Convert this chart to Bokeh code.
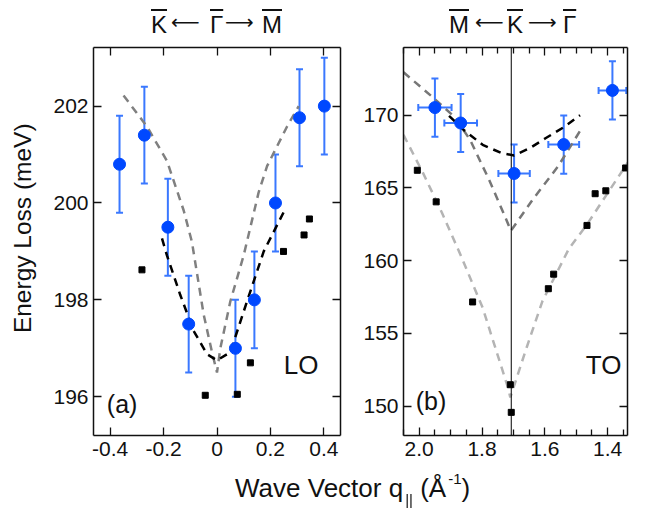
from bokeh.plotting import figure
from bokeh.models import (Range1d, LinearAxis, FixedTicker, Whisker, TeeHead,
                          ColumnDataSource, Span, Label, Div)
from bokeh.layouts import row, column
from bokeh.embed import file_html
from bokeh.resources import INLINE

FONT = "Liberation Sans"

# ---------------- Panel (a): LO branch around Gamma ----------------
a_q = [-0.365, -0.272, -0.184, -0.106, 0.069, 0.140, 0.219, 0.309, 0.402]
a_E = [200.8, 201.4, 199.5, 197.5, 197.0, 198.0, 200.0, 201.76, 202.0]
a_Eerr = [1.0, 1.0, 1.0, 1.0, 1.0, 1.0, 1.0, 1.0, 1.0]

a_sq_q = [-0.281, -0.044, 0.076, 0.125, 0.249, 0.326, 0.346]
a_sq_E = [198.62, 196.03, 196.05, 196.70, 199.00, 199.34, 199.67]

a_gray_q = [-0.35, -0.2625, -0.1875, -0.125, -0.094, -0.05, -0.02, 0.0,
            0.0125, 0.05, 0.10, 0.156, 0.1875, 0.2625, 0.306]
a_gray_E = [202.22, 201.58, 200.87, 199.85, 199.2, 197.7, 196.95, 196.5,
            197.0, 197.97, 198.92, 200.22, 200.76, 201.58, 202.0]

a_black_q = [-0.206, -0.1875, -0.1375, -0.0875, -0.0375, 0.0, 0.05, 0.1125, 0.175, 0.256]
a_black_E = [199.27, 198.92, 198.10, 197.36, 196.88, 196.75, 196.92, 197.97, 199.0, 199.88]

a_xticks = [-0.4, -0.2, 0.0, 0.2, 0.4]
a_xlabels = ["-0.4", "-0.2", "0", "0.2", "0.4"]
a_yticks = [196, 198, 200, 202]
a_ylabels = ["196", "198", "200", "202"]

# ---------------- Panel (b): TO branch around K ----------------
b_q = [1.950, 1.868, 1.698, 1.540, 1.385]
b_E = [170.52, 169.46, 165.99, 167.98, 171.70]
b_Eerr = [2.0, 2.0, 2.0, 2.0, 2.0]
b_qerr = [0.053, 0.052, 0.050, 0.049, 0.044]

b_sq_q = [2.006, 1.946, 1.830, 1.710, 1.707, 1.589, 1.572, 1.466, 1.440, 1.406, 1.343]
b_sq_E = [166.21, 164.04, 157.16, 151.47, 149.57, 158.07, 159.07, 162.42, 164.60, 164.80, 166.37]

b_black_q = [1.905, 1.858, 1.798, 1.738, 1.698, 1.648, 1.598, 1.538, 1.488]
b_black_E = [169.95, 168.98, 167.96, 167.39, 167.23, 167.73, 168.41, 169.20, 170.0]

b_mid_q = [2.05, 1.958, 1.888, 1.838, 1.778, 1.728, 1.708, 1.638, 1.558, 1.483]
b_mid_E = [172.95, 171.25, 169.89, 168.30, 165.58, 163.08, 162.06, 164.22, 166.48, 169.09]

b_light_q = [2.05, 1.988, 1.928, 1.868, 1.798, 1.758, 1.718, 1.710,
             1.658, 1.608, 1.523, 1.468, 1.313]
b_light_E = [168.64, 166.03, 163.31, 160.37, 156.76, 154.03, 151.31, 150.6,
             154.03, 157.20, 160.84, 162.42, 167.50]

b_K = 1.707

b_xticks = [2.0, 1.8, 1.6, 1.4]
b_xlabels = ["2.0", "1.8", "1.6", "1.4"]
b_xminor = [2.05, 1.95, 1.90, 1.85, 1.75, 1.70, 1.65, 1.55, 1.50, 1.45, 1.35]
b_yticks = [150, 155, 160, 165, 170]
b_ylabels = ["150", "155", "160", "165", "170"]

# symmetry-point headers: (text, overbar?)
title_a = [("K", True), ("\u27f5", False), ("\u0393", True), ("\u27f6", False), ("M", True)]
title_b = [("M", True), ("\u27f5", False), ("K", True), ("\u27f6", False), ("\u0393", True)]

BLUE = "#0048ff"
BLUE_ERR = "#3a78ff"
DASH = "8 6"
INK = "#111111"


def add_axes(p, xticks, xlabels, yticks, ylabels, xminor=None):
    xt = FixedTicker(ticks=xticks, minor_ticks=xminor or [])
    yt = FixedTicker(ticks=yticks, minor_ticks=[])
    for side, ticker, labels in (("below", xt, xlabels), ("above", xt, None),
                                 ("left", yt, ylabels), ("right", yt, None)):
        ax = LinearAxis(ticker=ticker)
        ax.axis_line_color = INK
        ax.axis_line_width = 1.5
        ax.major_tick_line_color = INK
        ax.major_tick_line_width = 1.3
        ax.minor_tick_line_color = INK
        ax.minor_tick_line_width = 1.3
        ax.major_tick_in = 8
        ax.major_tick_out = 0
        ax.minor_tick_in = 6
        ax.minor_tick_out = 0
        if labels is None:
            ax.major_label_text_color = None
            ax.major_label_text_font_size = "0px"
            ax.major_label_standoff = 0
            ax.axis_label_standoff = 0
        else:
            ax.major_label_overrides = {t: s for t, s in zip(ticker.ticks, labels)}
            ax.major_label_text_font = FONT
            ax.major_label_text_font_size = "21px"
            ax.major_label_text_color = INK
            ax.major_label_standoff = 6 if side == "below" else 5
        p.add_layout(ax, side)


# ---------------- figure (a) ----------------
p1 = figure(width=312, height=428, x_range=Range1d(-0.4625, 0.4625),
            y_range=Range1d(195.2, 203.21), output_backend="svg",
            toolbar_location=None, x_axis_type=None, y_axis_type=None, title=None,
            min_border_left=45, min_border_right=20, min_border_top=7,
            min_border_bottom=33)
p1.outline_line_color = None
p1.grid.visible = False
add_axes(p1, a_xticks, a_xlabels, a_yticks, a_ylabels)

p1.line(a_gray_q, a_gray_E, line_color="#808080", line_width=2.5, line_dash=DASH)
p1.line(a_black_q, a_black_E, line_color="black", line_width=2.5, line_dash=DASH)
p1.scatter(a_sq_q, a_sq_E, marker="square", size=6, color="black")

src_a = ColumnDataSource(dict(x=a_q, y=a_E,
                              upper=[e + d for e, d in zip(a_E, a_Eerr)],
                              lower=[e - d for e, d in zip(a_E, a_Eerr)]))
wa = Whisker(source=src_a, base="x", upper="upper", lower="lower",
             dimension="height", line_color=BLUE_ERR, line_width=2,
             upper_head=TeeHead(size=7, line_color=BLUE_ERR, line_width=2),
             lower_head=TeeHead(size=7, line_color=BLUE_ERR, line_width=2))
p1.add_layout(wa)
p1.scatter("x", "y", source=src_a, marker="circle", size=12, color=BLUE, level="overlay")

p1.add_layout(Label(x=-0.4125, y=195.56, text="(a)", text_font=FONT,
                    text_font_size="25px", text_color=INK))
p1.add_layout(Label(x=0.25, y=196.34, text="LO", text_font=FONT,
                    text_font_size="26px", text_color=INK))

# ---------------- figure (b) ----------------
p2 = figure(width=269, height=428, x_range=Range1d(2.05, 1.337),
            y_range=Range1d(147.98, 174.65), output_backend="svg",
            toolbar_location=None, x_axis_type=None, y_axis_type=None, title=None,
            min_border_left=39, min_border_right=2, min_border_top=7,
            min_border_bottom=33)
p2.outline_line_color = None
p2.grid.visible = False
add_axes(p2, b_xticks, b_xlabels, b_yticks, b_ylabels, b_xminor)

p2.add_layout(Span(location=b_K, dimension="height", line_color="black", line_width=1))
p2.line(b_light_q, b_light_E, line_color="#b4b4b4", line_width=2.5, line_dash=DASH)
p2.line(b_mid_q, b_mid_E, line_color="#777777", line_width=2.5, line_dash=DASH)
p2.line(b_black_q, b_black_E, line_color="black", line_width=2.5, line_dash=DASH)
p2.scatter(b_sq_q, b_sq_E, marker="square", size=6, color="black")

src_b = ColumnDataSource(dict(x=b_q, y=b_E,
                              upper=[e + d for e, d in zip(b_E, b_Eerr)],
                              lower=[e - d for e, d in zip(b_E, b_Eerr)],
                              xhi=[q + d for q, d in zip(b_q, b_qerr)],
                              xlo=[q - d for q, d in zip(b_q, b_qerr)]))
for dim, base, up, lo in (("height", "x", "upper", "lower"), ("width", "y", "xhi", "xlo")):
    w = Whisker(source=src_b, base=base, upper=up, lower=lo, dimension=dim,
                line_color=BLUE_ERR, line_width=2,
                upper_head=TeeHead(size=7, line_color=BLUE_ERR, line_width=2),
                lower_head=TeeHead(size=7, line_color=BLUE_ERR, line_width=2))
    p2.add_layout(w)
p2.scatter("x", "y", source=src_b, marker="circle", size=12, color=BLUE, level="overlay")

p2.add_layout(Label(x=2.011, y=149.41, text="(b)", text_font=FONT,
                    text_font_size="25px", text_color=INK))
p2.add_layout(Label(x=1.47, y=151.77, text="TO", text_font=FONT,
                    text_font_size="26px", text_color=INK))


# ---------------- header (HTML text with overbars) ----------------
def header_html(parts, lefts):
    out = []
    for (txt, bar), left in zip(parts, lefts):
        if bar:
            out.append(
                f'<span style="position:absolute; left:{left}px; top:10px; font-size:24px;'
                f' line-height:30px; text-decoration:overline; text-decoration-thickness:2px;">'
                f'{txt}</span>')
        else:
            out.append(
                f'<span style="position:absolute; left:{left}px; top:7px; font-size:20px;'
                f' line-height:30px; font-family:\'DejaVu Sans\';">{txt}</span>')
    return "".join(out)


header = Div(
    text=('<div style="position:relative; width:629px; height:40px; color:#111111;'
          ' font-family:\'Liberation Sans\'; white-space:nowrap;">'
          + header_html(title_a, [151, 171, 210, 225, 262])
          + header_html(title_b, [449, 475, 507, 528, 563])
          + '</div>'),
    width=629, height=40, margin=(0, 0, 0, 0))

# ---------------- y-axis title (HTML, rotated) ----------------
ylabel = Div(
    text=('<div style="position:relative; width:48px; height:428px;">'
          '<div style="position:absolute; left:-127px; top:176px; width:300px; height:24.5px;'
          ' line-height:24.5px; font-size:24.5px; text-align:center; white-space:nowrap;'
          ' transform:rotate(-90deg); font-family:\'Liberation Sans\'; color:#111111;">'
          'Energy Loss (meV)</div></div>'),
    width=48, height=428, margin=(0, 0, 0, 0))

# ---------------- x-axis title (HTML) ----------------
xlabel = Div(
    text=('<div style="padding-left:235px; padding-top:7px; font-family:\'Liberation Sans\';'
          ' font-size:26px; line-height:26px; white-space:nowrap; color:#111111;">'
          'Wave Vector q<span style="font-size:15px; display:inline-block;'
          ' transform:translateY(8px); margin-left:2px; filter:grayscale(100%);">||</span>'
          ' (Å<span style="font-size:15px; display:inline-block; transform:translateY(-13px);'
          ' margin-left:2px;">-1</span>)</div>'),
    width=629, height=35, margin=(0, 0, 0, 0))

layout = column(header, row(ylabel, p1, p2), xlabel)
open("out.html", "w").write(file_html(layout, INLINE))
